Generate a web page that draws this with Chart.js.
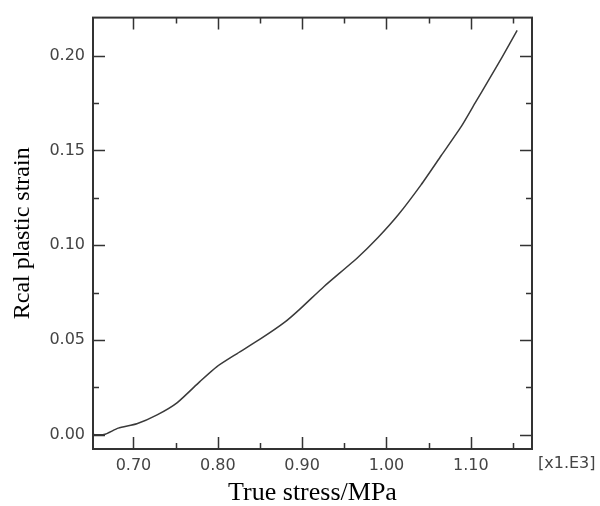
<!DOCTYPE html>
<html>
<head>
<meta charset="utf-8">
<script src="https://cdn.jsdelivr.net/npm/chart.js@4"></script>
<style>
  html, body { margin: 0; padding: 0; background: #fff; }
  #wrap { width: 600px; height: 506px; }
</style>
</head>
<body>
<div id="wrap"><canvas id="stressChart" width="600" height="506"></canvas></div>
<script>
const stress = [0.652, 0.665, 0.682, 0.704, 0.728, 0.752, 0.779, 0.799, 0.823, 0.851,
                0.879, 0.898, 0.926, 0.966, 0.990, 1.014, 1.041, 1.065, 1.089, 1.105,
                1.121, 1.137, 1.155];
const strain = [0.0000, 0.0000, 0.0034, 0.0057, 0.0104, 0.0169, 0.0281, 0.0359, 0.0428, 0.0506,
                0.0592, 0.0665, 0.0782, 0.0935, 0.1040, 0.1160, 0.1318, 0.1473, 0.1628, 0.1749,
                0.1870, 0.1991, 0.2133];

// tick values
const xMajor = [0.70, 0.80, 0.90, 1.00, 1.10];
const xMinor = [0.75, 0.85, 0.95, 1.05, 1.15];
const yMajor = [0.00, 0.05, 0.10, 0.15, 0.20];
const yMinor = [0.025, 0.075, 0.125, 0.175];

const frameColor = '#333333';

// frame + inward ticks on all four sides, plus the exponent note
const framePlugin = {
    id: 'frame',
    afterDraw(chart) {
        const ctx = chart.ctx;
        const a = chart.chartArea;
        const xs = chart.scales.x;
        const ys = chart.scales.y;
        ctx.save();
        ctx.strokeStyle = frameColor;
        ctx.lineWidth = 1.5;
        ctx.beginPath();
        const tick = (vals, len) => {
            vals.forEach(v => {
                const px = Math.round(xs.getPixelForValue(v)) + 0.5;
                ctx.moveTo(px, a.bottom); ctx.lineTo(px, a.bottom - len);
                ctx.moveTo(px, a.top); ctx.lineTo(px, a.top + len);
            });
        };
        const tickY = (vals, len) => {
            vals.forEach(v => {
                const py = Math.round(ys.getPixelForValue(v)) + 0.5;
                ctx.moveTo(a.left, py); ctx.lineTo(a.left + len, py);
                ctx.moveTo(a.right, py); ctx.lineTo(a.right - len, py);
            });
        };
        tick(xMajor, 12);
        tick(xMinor, 6);
        tickY(yMajor, 12);
        tickY(yMinor, 6);
        ctx.stroke();

        ctx.lineWidth = 2;
        ctx.strokeRect(a.left, a.top, a.right - a.left, a.bottom - a.top);

        ctx.fillStyle = '#444444';
        ctx.font = '16px "DejaVu Sans"';
        ctx.textAlign = 'left';
        ctx.textBaseline = 'middle';
        ctx.fillText('[x1.E3]', a.right + 6, 464);
        ctx.restore();
    }
};

const ctx = document.getElementById('stressChart').getContext('2d');

new Chart(ctx, {
    type: 'line',
    data: {
        datasets: [{
            data: stress.map((s, i) => ({ x: s, y: strain[i] })),
            borderColor: '#3a3a3a',
            borderWidth: 1.5,
            pointRadius: 0,
            tension: 0.2,
            fill: false
        }]
    },
    options: {
        responsive: false,
        animation: false,
        layout: { padding: { top: 10, right: 68, left: 0, bottom: 0 } },
        plugins: {
            legend: { display: false },
            tooltip: { enabled: false }
        },
        scales: {
            x: {
                type: 'linear',
                min: 0.652,
                max: 1.1726,
                afterBuildTicks: scale => { scale.ticks = xMajor.map(v => ({ value: v })); },
                afterFit: scale => { scale.height = 57; },
                grid: { display: false, drawTicks: false },
                border: { display: false },
                ticks: {
                    padding: 7,
                    color: '#444444',
                    font: { family: 'DejaVu Sans', size: 16 },
                    callback: v => v.toFixed(2)
                },
                title: {
                    display: true,
                    text: 'True stress/MPa',
                    color: '#000000',
                    font: { family: 'Liberation Serif', size: 26, lineHeight: 1 },
                    padding: { top: 0, bottom: 0 }
                }
            },
            y: {
                type: 'linear',
                min: -0.0076,
                max: 0.2201,
                afterBuildTicks: scale => { scale.ticks = yMajor.map(v => ({ value: v })); },
                afterFit: scale => { scale.width = 93; },
                grid: { display: false, drawTicks: false },
                border: { display: false },
                ticks: {
                    padding: 8,
                    color: '#444444',
                    font: { family: 'DejaVu Sans', size: 16 },
                    callback: v => v.toFixed(2)
                },
                title: {
                    display: true,
                    text: 'Rcal plastic strain',
                    color: '#000000',
                    font: { family: 'Liberation Serif', size: 24, lineHeight: 1 },
                    padding: { top: 11, bottom: 0 }
                }
            }
        }
    },
    plugins: [framePlugin]
});
</script>
</body>
</html>
